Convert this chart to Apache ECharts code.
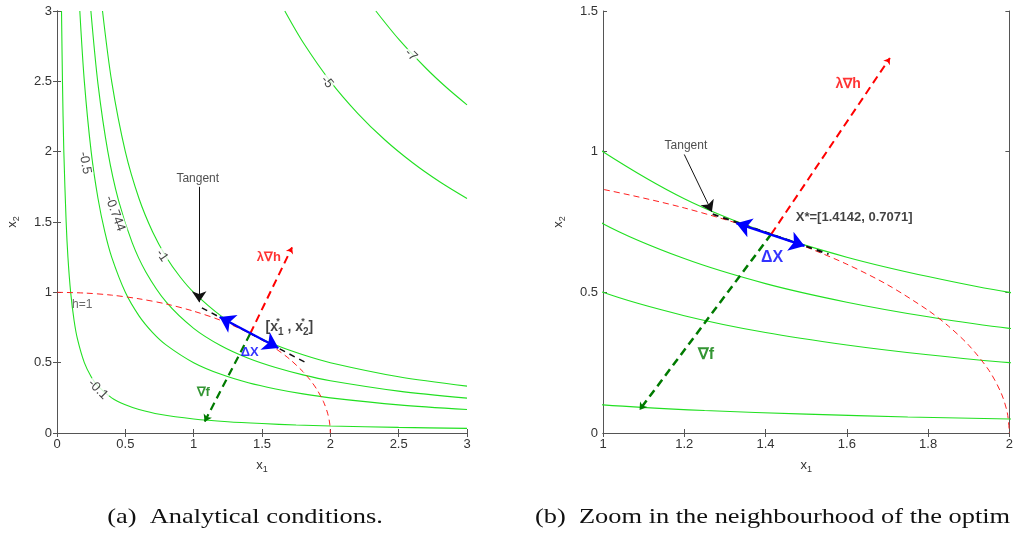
<!DOCTYPE html>
<html>
<head>
<meta charset="utf-8">
<script src="https://cdn.jsdelivr.net/npm/echarts@6/dist/echarts.min.js"></script>
<style>
html, body { margin: 0; padding: 0; background: #fff; }
#chart { width: 1016px; height: 541px; }
</style>
</head>
<body>
<div id="chart"></div>
<script>
// contour lines of f = -x1*x2
var cLevel01 = [[0.033,3],[0.04,2.5],[0.05,2],[0.067,1.5],[0.08,1.25],[0.1,1],[0.125,0.8],[0.15,0.667],[0.2,0.5],[0.25,0.4],[0.3,0.333],[0.4,0.25],[0.5,0.2],[0.6,0.167],[0.75,0.133],[1,0.1],[1.25,0.08],[1.5,0.067],[1.75,0.057],[2,0.05],[2.5,0.04],[3,0.033]];
var cLevel05 = [[0.167,3],[0.2,2.5],[0.25,2],[0.3,1.667],[0.35,1.429],[0.4,1.25],[0.5,1],[0.6,0.833],[0.7,0.714],[0.8,0.625],[1,0.5],[1.2,0.417],[1.4,0.357],[1.6,0.313],[1.8,0.278],[2,0.25],[2.5,0.2],[3,0.167]];
var cLevel0744 = [[0.248,3],[0.3,2.48],[0.372,2],[0.45,1.653],[0.55,1.353],[0.65,1.145],[0.8,0.93],[1,0.744],[1.2,0.62],[1.4,0.531],[1.6,0.465],[1.8,0.413],[2,0.372],[2.5,0.298],[3,0.248]];
var cLevel1 = [[0.333,3],[0.4,2.5],[0.5,2],[0.6,1.667],[0.7,1.429],[0.8,1.25],[0.9,1.111],[1,1],[1.2,0.833],[1.4,0.714],[1.6,0.625],[1.8,0.556],[2,0.5],[2.5,0.4],[3,0.333]];
var cLevel5 = [[1.667,3],[1.8,2.778],[2,2.5],[2.2,2.273],[2.4,2.083],[2.6,1.923],[2.8,1.786],[3,1.667]];
var cLevel7 = [[2.333,3],[2.5,2.8],[2.7,2.593],[2.85,2.456],[3,2.333]];
// constraint h = 1
var hCurve = [[0,1],[0.2,0.995],[0.4,0.98],[0.6,0.954],[0.8,0.917],[1,0.866],[1.2,0.8],[1.4,0.714],[1.5,0.661],[1.6,0.6],[1.7,0.527],[1.8,0.436],[1.85,0.38],[1.9,0.312],[1.95,0.222],[1.98,0.141],[1.995,0.071],[2,0]];

// contour labels [text, x1, x2]
var cLabelsA = [['-0.1',0.30,0.31],['-0.5',0.205,1.92],['-0.744',0.424,1.56],['-1',0.768,1.26],['-5',1.976,2.495],['-7',2.59,2.687]];
var cLabelAngles = [-45,-80,-70,-55,-50,-45];

// vectors, panel (a)
var gradFA = [[1.414,0.707],[1.08,0.08]];
var lamHA = [[1.414,0.707],[1.72,1.32]];
var deltaXA = [[1.19,0.825],[1.62,0.604]];
var tangentA = [[1.06,0.89],[1.84,0.49]];
var pointerA = [[1.04,1.75],[1.04,0.93]];
// vectors, panel (b)
var gradFB = [[1.414,0.707],[1.09,0.082]];
var lamHB = [[1.414,0.707],[1.706,1.333]];
var deltaXB = [[1.328,0.746],[1.496,0.665]];
var tangentB = [[1.27,0.778],[1.555,0.636]];
var pointerB = [[1.20,0.99],[1.268,0.786]];

// annotations [key, x1, x2]
var notesA = [['tangent',1.03,1.81],['lamh',1.55,1.25],['xstar',1.70,0.75],['dx',1.41,0.575],['gradf',1.07,0.29],['h1',0.185,0.91]];
var notesB = [['tangent',1.204,1.02],['lamh',1.603,1.24],['xval',1.618,0.768],['dx',1.416,0.622],['gradf',1.253,0.277]];

var xTicksA = [0, 3, 0.5];
var yTicksA = [0, 3, 0.5];
var xTicksB = [1, 2, 0.2];
var yTicksB = [0, 1.5, 0.5];

var FONT = 'Liberation Sans';
var GREEN = '#22e022';
var DKGREEN = '#007a00';

var noteText = {
  tangent: { formatter: 'Tangent', fontSize: 12, color: '#222' },
  lamh: { formatter: 'λ∇h', fontSize: 13, fontWeight: 'bold', color: '#ff0000' },
  xstar: {
    formatter: '[{b|x}{st|*}{sb|1} , {b|x}{st|*}{sb|2}]',
    fontSize: 14, fontWeight: 'bold', color: '#111', lineHeight: 20,
    rich: {
      b: { fontSize: 14, fontWeight: 'bold', color: '#111', lineHeight: 20, fontFamily: FONT },
      st: { fontSize: 9, fontWeight: 'bold', color: '#111', width: 0, verticalAlign: 'top', lineHeight: 20, fontFamily: FONT },
      sb: { fontSize: 10, fontWeight: 'bold', color: '#111', verticalAlign: 'bottom', lineHeight: 20, fontFamily: FONT }
    }
  },
  xval: { formatter: 'X*=[1.4142, 0.7071]', fontSize: 13, fontWeight: 'bold', color: '#111' },
  dx: { formatter: 'ΔX', fontSize: 13, fontWeight: 'bold', color: '#0000ff' },
  gradf: { formatter: '∇f', fontSize: 13, fontWeight: 'bold', color: DKGREEN },
  h1: { formatter: 'h=1', fontSize: 12, color: '#444' }
};
var bigNotes = { dx: 16, gradf: 16, lamh: 14 };

function curve(data, g, color, width, dash) {
  return {
    type: 'line', xAxisIndex: g * 2, yAxisIndex: g * 2, data: data,
    symbol: 'none', smooth: 0.3,
    lineStyle: { color: color, width: width, type: dash },
    silent: true, animation: false, z: 2
  };
}

function vec(coords, g, color, width, dash, sym, size, z) {
  return {
    type: 'lines', coordinateSystem: 'cartesian2d', xAxisIndex: g * 2, yAxisIndex: g * 2,
    symbol: sym, symbolSize: size,
    lineStyle: { color: color, width: width, type: dash, opacity: 1 },
    data: [{ coords: coords }], silent: true, animation: false, z: z
  };
}

function notes(list, g) {
  return {
    type: 'scatter', xAxisIndex: g * 2, yAxisIndex: g * 2, symbolSize: 0, silent: true, animation: false, z: 10,
    data: list.map(function (n) {
      var st = Object.assign({ show: true, position: 'inside', fontFamily: FONT }, noteText[n[0]]);
      if (g === 1 && bigNotes[n[0]]) st.fontSize = bigNotes[n[0]];
      return { value: [n[1], n[2]], label: st };
    })
  };
}

function contourLabels() {
  return {
    type: 'scatter', xAxisIndex: 0, yAxisIndex: 0, symbolSize: 0, silent: true, animation: false, z: 9,
    data: cLabelsA.map(function (c, i) {
      return {
        value: [c[1], c[2]],
        label: { show: true, position: 'inside', formatter: c[0], rotate: cLabelAngles[i], fontSize: 13,
          fontFamily: FONT, color: '#111', backgroundColor: '#fff', padding: [0, 1] }
      };
    })
  };
}

function axisPair(g, t, labels) {
  return {
    gridIndex: g, type: 'value', min: t[0], max: t[1], interval: t[2],
    axisLine: { show: true, lineStyle: { color: '#555', width: 1 } },
    axisTick: { show: true, inside: true, length: 4, lineStyle: { color: '#555' } },
    splitLine: { show: false },
    axisLabel: { show: labels, color: '#333', fontSize: 13, fontFamily: FONT, margin: 5 }
  };
}

var nameStyle = {
  color: '#333', fontSize: 13, fontFamily: FONT, lineHeight: 18,
  rich: {
    i: { fontSize: 13, color: '#333', fontFamily: FONT, lineHeight: 18 },
    s: { fontSize: 9, color: '#333', fontFamily: FONT, lineHeight: 18, verticalAlign: 'bottom' }
  }
};

var xAxes = [], yAxes = [];
[[xTicksA, yTicksA], [xTicksB, yTicksB]].forEach(function (p, g) {
  var xb = axisPair(g, p[0], true);
  xb.position = 'bottom';
  xb.name = '{i|x}{s|1}'; xb.nameLocation = 'middle'; xb.nameGap = 23; xb.nameTextStyle = nameStyle;
  var xt = axisPair(g, p[0], false);
  xt.position = 'top';
  var yl = axisPair(g, p[1], true);
  yl.position = 'left';
  yl.name = '{i|x}{s|2}'; yl.nameLocation = 'middle'; yl.nameGap = 36; yl.nameTextStyle = nameStyle;
  var yr = axisPair(g, p[1], false);
  yr.position = 'right';
  xAxes.push(xb, xt);
  yAxes.push(yl, yr);
});

var series = [];
[0, 1].forEach(function (g) {
  [cLevel01, cLevel05, cLevel0744, cLevel1, cLevel5, cLevel7].forEach(function (c) {
    series.push(curve(c, g, GREEN, 1.1, 'solid'));
  });
  series.push(curve(hCurve, g, '#ff2020', 1, [6, 4]));
});
series.push(
  vec(tangentA, 0, '#111', 1.5, [6, 5], ['none', 'none'], 0, 4),
  vec(gradFA, 0, DKGREEN, 2.2, [8, 5], ['none', 'arrow'], 7, 5),
  vec(lamHA, 0, '#ff0000', 2, [8, 5], ['none', 'arrow'], 6, 5),
  vec(deltaXA, 0, '#0000ff', 2.2, 'solid', ['arrow', 'arrow'], 15, 6),
  vec(pointerA, 0, '#111', 1, 'solid', ['none', 'arrow'], 11, 6),
  vec(tangentB, 1, '#111', 2, [6, 5], ['none', 'none'], 0, 4),
  vec(gradFB, 1, DKGREEN, 2.5, [8, 5], ['none', 'arrow'], 7, 5),
  vec(lamHB, 1, '#ff0000', 2, [8, 5], ['none', 'arrow'], 6, 5),
  vec(deltaXB, 1, '#0000ff', 2.5, 'solid', ['arrow', 'arrow'], 15, 6),
  vec(pointerB, 1, '#111', 1, 'solid', ['none', 'arrow'], 11, 6),
  contourLabels(),
  notes(notesA, 0),
  notes(notesB, 1)
);

var chart = echarts.init(document.getElementById('chart'), null, { renderer: 'canvas' });
chart.setOption({
  animation: false,
  backgroundColor: '#fff',
  grid: [
    { left: 57, top: 11, width: 410, height: 422 },
    { left: 603, top: 11, width: 411, height: 422 }
  ],
  xAxis: xAxes,
  yAxis: yAxes,
  series: series,
  graphic: [
    { type: 'text', x: 245, y: 517, scaleX: 1.2, style: { text: '(a)  Analytical conditions.', fontSize: 22, fontFamily: 'Liberation Serif', fill: '#111', align: 'center', verticalAlign: 'middle' } },
    { type: 'text', x: 535, y: 517, scaleX: 1.2, style: { text: '(b)  Zoom in the neighbourhood of the optim', fontSize: 22, fontFamily: 'Liberation Serif', fill: '#111', align: 'left', verticalAlign: 'middle' } }
  ]
});
</script>
</body>
</html>
